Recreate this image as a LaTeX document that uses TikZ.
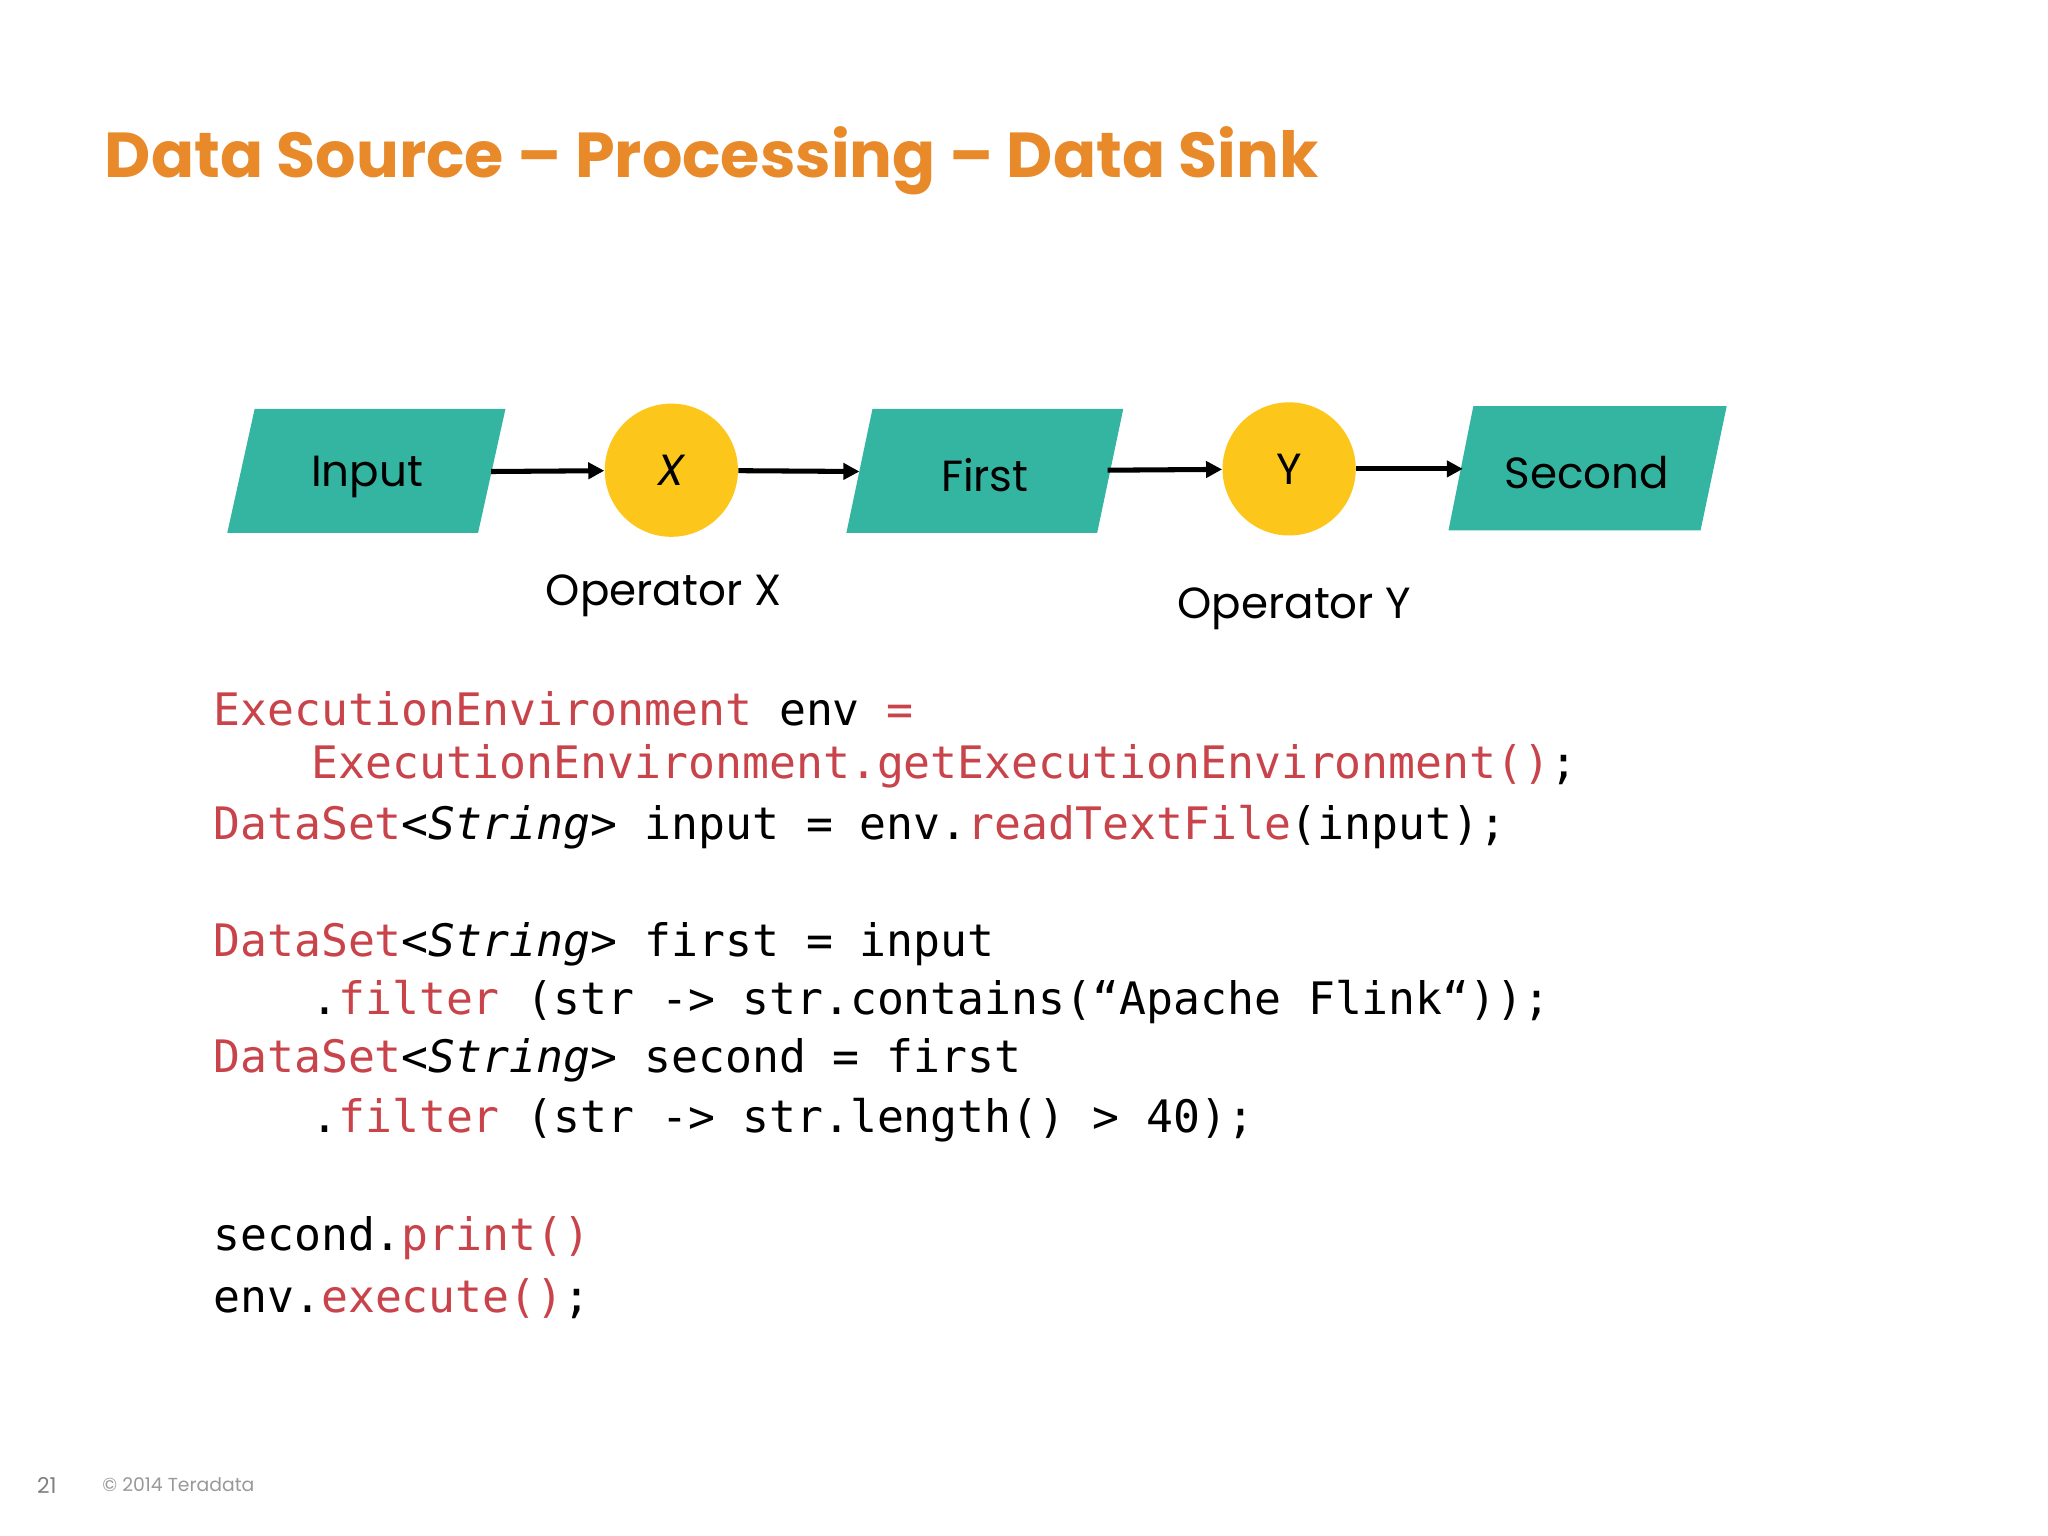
\documentclass[tikz,border=0pt]{standalone}
\usepackage{fontspec}
\setmainfont{Poppins}
\newfontfamily\codef{DejaVu Sans Mono}
\usetikzlibrary{arrows.meta}
\definecolor{teal}{HTML}{33B5A1}
\definecolor{yel}{HTML}{FDC61A}
\definecolor{org}{HTML}{E8892A}
\definecolor{kw}{HTML}{C8444A}
\begin{document}
\begin{tikzpicture}[x=0.02cm,y=-0.02cm,
  data/.style={fill=teal,draw=none},
  op/.style={circle,fill=yel,minimum size=2.04cm,inner sep=0,font=\fontsize{19}{22}\selectfont},
  lbl/.style={font=\fontsize{19}{22}\selectfont},
  arr/.style={-{Triangle[length=7pt,width=7pt]},line width=2.2pt},
  code/.style={anchor=west,inner sep=0,font=\codef\fontsize{19.5}{22}\selectfont}]
\useasboundingbox (0,0) rectangle (1568,1176);
\fill[white] (0,0) rectangle (1568,1176);
\node[anchor=west,text=org,font=\fontsize{27.7}{32}\selectfont\bfseries,inner sep=0] (title) at (80,123) {Data Source – Processing – Data Sink};
% data shapes
\fill[data] (195,313)--(387,313)--(366,408)--(174,408)--cycle;
\node[lbl] (in) at (281,365) {Input};
\fill[data] (668,313)--(860,313)--(840,408)--(648,408)--cycle;
\node[lbl] (fi) at (754,364) {First};
\fill[data] (1128,311)--(1322,311)--(1302,406)--(1109,406)--cycle;
\node[lbl] (se) at (1215,362) {Second};
\node[op] (x) at (514,360) {\itshape X};
\node[op] (y) at (987,359) {Y};
\coordinate (inR) at (376,361); \coordinate (fiL) at (658,361);
\coordinate (fiR) at (848,360); \coordinate (seL) at (1120,359);
\draw[arr] (inR) -- (x);
\draw[arr] (x) -- (fiL);
\draw[arr] (fiR) -- (y);
\draw[arr] (y) -- (seL);
\node[lbl] (ox) at (508,456) {Operator X};
\node[lbl] (oy) at (991,466) {Operator Y};
% code
\node[code] (c1) at (163,543) {\textcolor{kw}{ExecutionEnvironment} env \textcolor{kw}{=}};
\node[code] (c2) at (238,587) {\textcolor{kw}{ExecutionEnvironment.getExecutionEnvironment()};};
\node[code] (c3) at (163,633) {\textcolor{kw}{DataSet}<\textit{String}> input = env.\textcolor{kw}{readTextFile}(input);};
\node[code] (c4) at (163,723) {\textcolor{kw}{DataSet}<\textit{String}> first = input};
\node[code] (c5) at (238,767) {.\textcolor{kw}{filter} (str -> str.contains(“Apache Flink“));};
\node[code] (c6) at (163,812) {\textcolor{kw}{DataSet}<\textit{String}> second = first};
\node[code] (c7) at (238,858) {.\textcolor{kw}{filter} (str -> str.length() > 40);};
\node[code] (c8) at (163,948) {second.\textcolor{kw}{print()}};
\node[code] (c9) at (163,994) {env.\textcolor{kw}{execute()};};
\node[anchor=west,text=gray,font=\fontsize{9.5}{10}\selectfont,inner sep=0] (pg) at (28,1137) {21};
\node[anchor=west,text=gray!80,font=\fontsize{8.2}{9}\selectfont,inner sep=0] (cp) at (78,1137) {© 2014 Teradata};
\end{tikzpicture}
\end{document}
